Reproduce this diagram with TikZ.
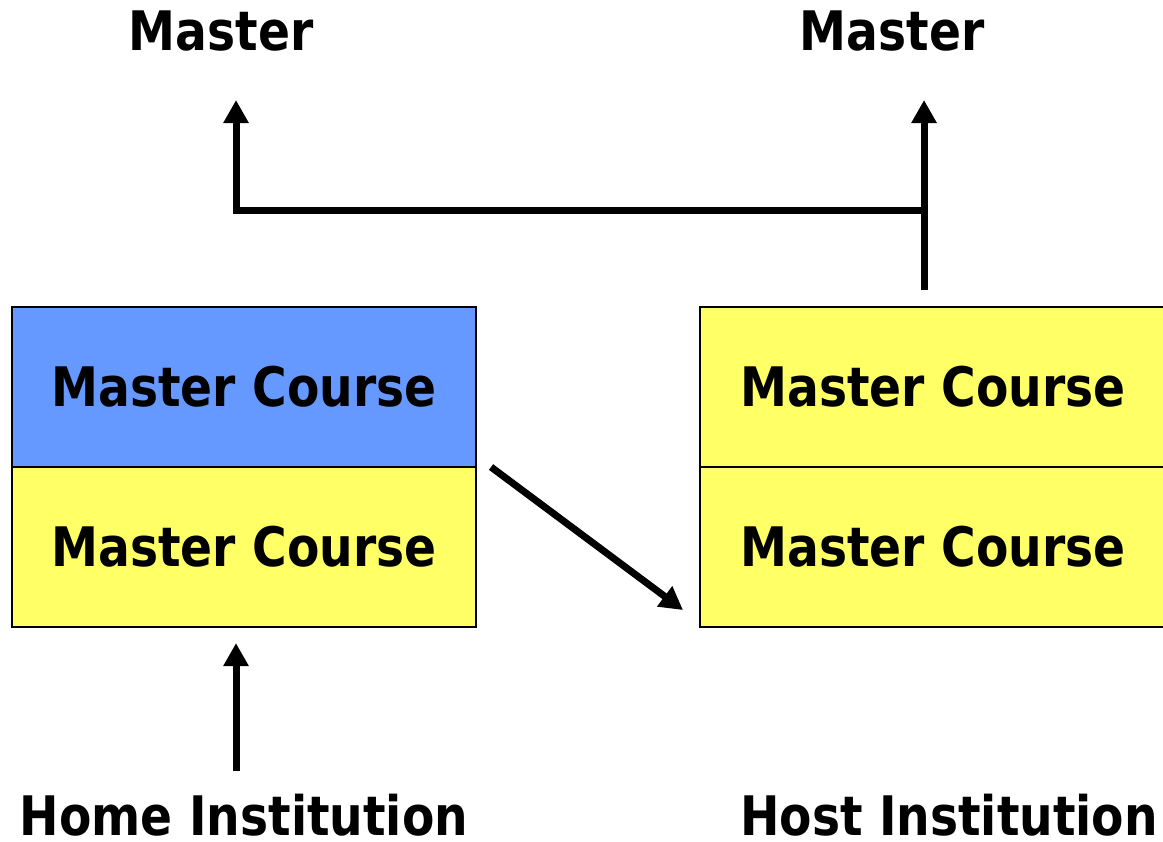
\documentclass[tikz,border=0pt]{standalone}
\usepackage{fontspec}
\setmainfont{DejaVu Sans}
\usepackage{graphicx}
\usepackage{tikz}
\usetikzlibrary{arrows.meta}
\definecolor{cellblue}{HTML}{6699FF}
\definecolor{cellyellow}{HTML}{FFFF66}
\newcommand{\lbl}[1]{\scalebox{0.866}[1]{#1}}
\begin{document}
\begin{tikzpicture}[scale=0.1,
  every node/.style={inner sep=0pt, font=\fontsize{15.5}{18}\selectfont\bfseries},
  cell/.style={draw=black, line width=0.6pt, minimum width=4.64cm, minimum height=1.6cm},
  flow/.style={black, line width=2pt, -{Triangle[length=2.3mm,width=2.4mm]}}]
\useasboundingbox (0,0) rectangle (116.3,-84.1);
\node (mastL) at (22.1,-3.1) {\lbl{Master}};
\node (mastR) at (89.2,-3.1) {\lbl{Master}};
\node [cell, fill=cellblue] (homeA) at (24.4,-38.7) {\lbl{Master Course}};
\node [cell, fill=cellyellow] (homeB) at (24.4,-54.7) {\lbl{Master Course}};
\node [cell, fill=cellyellow, minimum width=4.66cm] (hostA) at (93.3,-38.7) {\lbl{Master Course}};
\node [cell, fill=cellyellow, minimum width=4.66cm] (hostB) at (93.3,-54.7) {\lbl{Master Course}};
\node (home) at (24.4,-81.5) {\lbl{Home Institution}};
\node (host) at (94.9,-81.5) {\lbl{Host Institution}};
\coordinate (tipL) at (23.6,-10.0);
\coordinate (tipR) at (92.4,-10.0);
\coordinate (hubR) at (92.4,-21.0);
\coordinate (baseR) at (92.4,-29.0);
\coordinate (swapA) at (49.1,-46.7);
\coordinate (swapB) at (68.3,-61.0);
\coordinate (startH) at (23.6,-77.1);
\coordinate (endH) at (23.6,-64.3);
\draw [flow] (baseR) -- (tipR);
\draw [flow] (hubR) -| (tipL);
\draw [flow] (swapA) -- (swapB);
\draw [flow] (startH) -- (endH);
\end{tikzpicture}
\end{document}
